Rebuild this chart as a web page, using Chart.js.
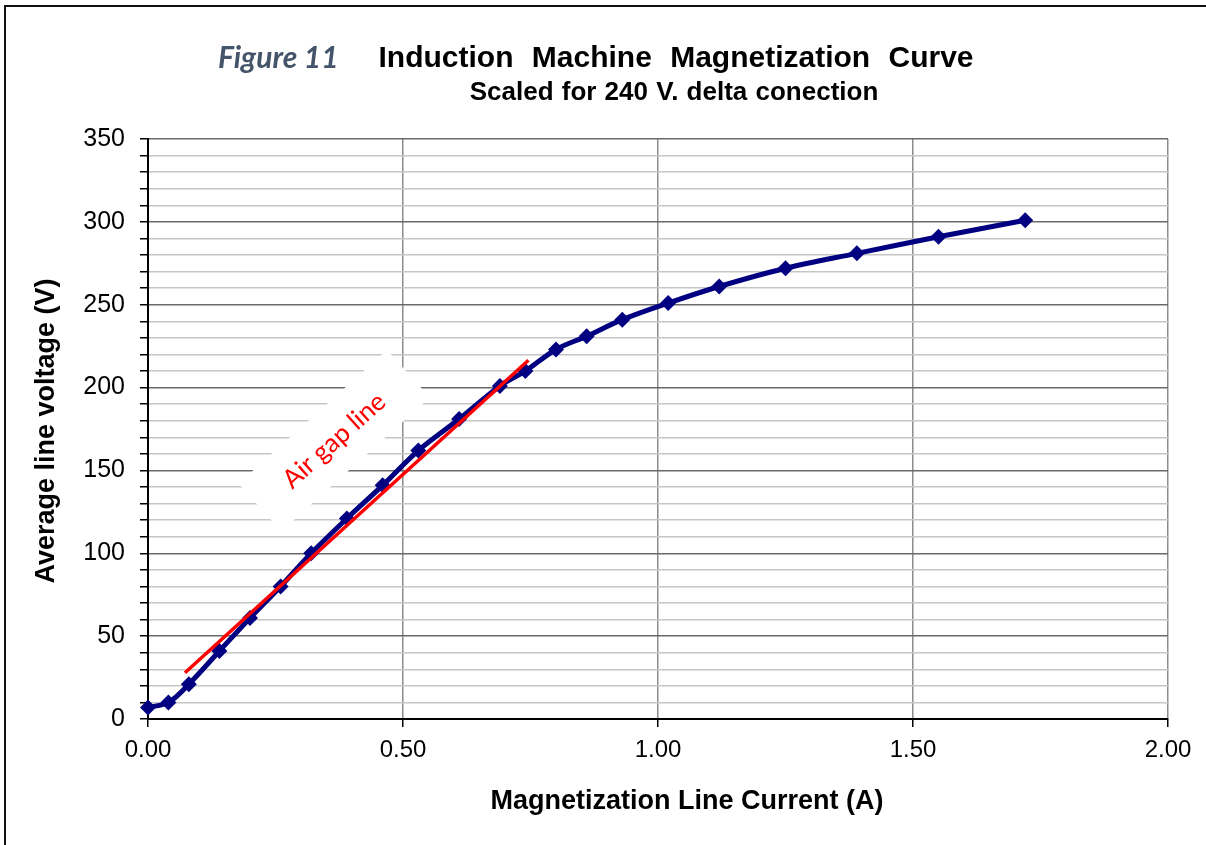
<!DOCTYPE html>
<html lang="en">
<head>
    <meta charset="UTF-8">
    <title>Induction Machine Magnetization Curve</title>
    <script src="https://cdn.jsdelivr.net/npm/chart.js@4.4.0/dist/chart.umd.min.js"></script>
    <style>
        * { margin: 0; padding: 0; box-sizing: border-box; }
        body { background: #fff; width: 1206px; height: 845px; overflow: hidden; position: relative; }
        #chart { position: absolute; left: 0; top: 0; }
        .frame {
            position: absolute;
            left: 4px;
            top: 5px;
            width: 1210px;
            height: 850px;
            border-top: 2px solid #111;
            border-left: 2px solid #111;
            pointer-events: none;
        }
    </style>
</head>
<body>
    <canvas id="chart" width="1206" height="845"></canvas>
    <div class="frame"></div>

    <script>
        // Measured magnetization points (line current A, line voltage V)
        const currentA = [0.00, 0.04, 0.08, 0.14, 0.20, 0.26, 0.32, 0.39, 0.46, 0.53, 0.61,
                          0.69, 0.74, 0.80, 0.86, 0.93, 1.02, 1.12, 1.25, 1.39, 1.55, 1.72];
        const voltageV = [7, 10, 21, 41, 61, 80, 100, 121, 141, 162, 181,
                          201, 210, 223, 231, 241, 251, 261, 272, 281, 291, 301];

        // Air gap line end points
        const airGapA = [0.0725, 0.746];
        const airGapV = [27.9, 216.5];

        const xTicks = [0, 0.5, 1, 1.5, 2];
        const yMajorStep = 50;
        const yMinorStep = 10;

        const curvePoints = currentA.map((a, i) => ({ x: a, y: voltageV[i] }));
        const airGapPoints = airGapA.map((a, i) => ({ x: a, y: airGapV[i] }));

        // Titles, axis titles and the rotated "Air gap line" label
        const textPlugin = {
            id: 'textPlugin',
            beforeDatasetsDraw(chart) {
                const ctx = chart.ctx;
                const x = chart.scales.x, y = chart.scales.y;
                const cx = x.getPixelForValue(0.365);
                const cy = y.getPixelForValue(168);
                ctx.save();
                ctx.translate(cx, cy);
                ctx.rotate(-42 * Math.PI / 180);
                ctx.fillStyle = '#fff';
                ctx.fillRect(-100, -32, 200, 64);
                ctx.fillStyle = '#ff0000';
                ctx.font = '26px Lato, "Open Sans", sans-serif';
                ctx.textAlign = 'center';
                ctx.textBaseline = 'middle';
                ctx.fillText('Air gap line', 0, 0);
                ctx.restore();
            },
            afterDraw(chart) {
                const ctx = chart.ctx;
                ctx.save();
                ctx.textBaseline = 'middle';

                ctx.fillStyle = '#44546a';
                ctx.textAlign = 'left';
                ctx.font = 'italic bold 30px Lato, "Open Sans", sans-serif';
                ctx.fillText('Figure 11', 218, 58);

                ctx.fillStyle = '#000';
                ctx.textAlign = 'center';
                ctx.font = 'bold 30px "Liberation Sans", Arial, sans-serif';
                ctx.wordSpacing = '10px';
                ctx.fillText('Induction Machine Magnetization Curve', 676, 59);
                ctx.font = 'bold 26px "Liberation Sans", Arial, sans-serif';
                ctx.wordSpacing = '1px';
                ctx.fillText('Scaled for 240 V. delta conection', 674, 93);
                ctx.wordSpacing = '0px';

                ctx.font = 'bold 27px "Liberation Sans", Arial, sans-serif';
                ctx.fillText('Magnetization Line Current (A)', 687, 802);

                ctx.translate(47, 431);
                ctx.rotate(-Math.PI / 2);
                ctx.fillText('Average line voltage (V)', 0, 0);
                ctx.restore();
            }
        };

        new Chart(document.getElementById('chart'), {
            type: 'scatter',
            data: {
                datasets: [{
                    label: 'Air gap line',
                    data: airGapPoints,
                    showLine: true,
                    borderColor: '#ff0000',
                    borderWidth: 3.5,
                    pointRadius: 0,
                    tension: 0,
                    order: 0
                }, {
                    label: 'Magnetization curve',
                    data: curvePoints,
                    showLine: true,
                    borderColor: '#000080',
                    backgroundColor: '#000080',
                    borderWidth: 5,
                    tension: 0.35,
                    pointStyle: 'rectRot',
                    pointRadius: 8,
                    pointBorderWidth: 0,
                    clip: false,
                    order: 1
                }]
            },
            options: {
                responsive: false,
                animation: false,
                devicePixelRatio: 1,
                layout: { padding: { top: 139, right: 38, left: 0, bottom: 0 } },
                plugins: {
                    legend: { display: false },
                    tooltip: { enabled: false }
                },
                scales: {
                    x: {
                        type: 'linear',
                        min: 0,
                        max: 2,
                        afterFit(scale) { scale.height = 126; },
                        afterBuildTicks(scale) { scale.ticks = xTicks.map(v => ({ value: v })); },
                        ticks: {
                            color: '#000',
                            font: { family: '"Liberation Sans", Arial, sans-serif', size: 24 },
                            padding: 9,
                            maxRotation: 0,
                            callback: v => Number(v).toFixed(2)
                        },
                        grid: {
                            color: '#8c8c8c',
                            lineWidth: 1.5,
                            tickColor: '#000',
                            tickLength: 8
                        },
                        border: { color: '#000', width: 2 }
                    },
                    y: {
                        type: 'linear',
                        min: 0,
                        max: 350,
                        afterFit(scale) { scale.width = 148; },
                        ticks: {
                            stepSize: yMinorStep,
                            autoSkip: false,
                            color: '#000',
                            font: { family: '"Liberation Sans", Arial, sans-serif', size: 25 },
                            padding: 15,
                            callback: v => (v % yMajorStep === 0 ? String(v) : '')
                        },
                        grid: {
                            color: c => (c.tick && c.tick.value % yMajorStep === 0 ? '#6a6a6a' : '#c6c6c6'),
                            lineWidth: 1.5,
                            tickColor: '#000',
                            tickLength: 8
                        },
                        border: { color: '#000', width: 2 }
                    }
                }
            },
            plugins: [textPlugin]
        });
    </script>
</body>
</html>
